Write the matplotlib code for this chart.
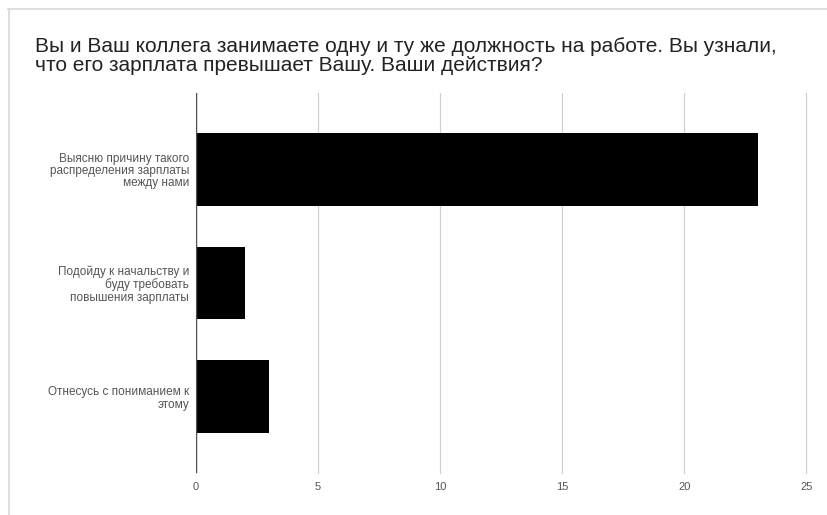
import matplotlib
matplotlib.use('Agg')
import matplotlib.pyplot as plt
from matplotlib.lines import Line2D

plt.rcParams['font.family'] = ['Liberation Sans', 'DejaVu Sans']

# survey answers and counts
answers = [
    'Выясню причину такого\nраспределения зарплаты\nмежду нами',
    'Подойду к начальству и\nбуду требовать\nповышения зарплаты',
    'Отнесусь с пониманием к\nэтому',
]
counts = [23, 2, 3]
xticks = [0, 5, 10, 15, 20, 25]
title = ('Вы и Ваш коллега занимаете одну и ту же должность на работе. Вы узнали,\n'
         'что его зарплата превышает Вашу. Ваши действия?')

fig = plt.figure(figsize=(8.28, 5.15), dpi=100)
ax = fig.add_axes([196 / 828, 1 - 473 / 515, 610.5 / 828, 380 / 515])

pos = list(range(len(answers)))
ax.barh(pos, counts, height=0.64, color='black', zorder=3)

ax.set_xlim(0, 25)
ax.set_ylim(2.67, -0.67)
ax.set_xticks(xticks)
ax.set_xticklabels([str(t) for t in xticks], fontsize=8, color='#555555')
ax.set_yticks(pos)
ax.set_yticklabels(answers, fontsize=8.5, color='#555555', linespacing=1.05)
ax.tick_params(axis='both', length=0)
ax.tick_params(axis='x', pad=6.5)
ax.tick_params(axis='y', pad=5)

for s in ax.spines.values():
    s.set_visible(False)

ax.grid(axis='x', color='#d0d0d0', lw=0.9, zorder=1)
for gl in ax.get_xgridlines():
    gl.set_clip_on(False)
ax.axvline(0, color='#505050', lw=1.0, zorder=4)

fig.text(35 / 828, 1 - 37 / 515, title, fontsize=15, color='#222222',
         va='top', ha='left', linespacing=1.02)

# card border (top and left edges)
fig.add_artist(Line2D([8 / 828, 1], [1 - 9 / 515, 1 - 9 / 515],
                      color='#d8d8d8', lw=1.2))
fig.add_artist(Line2D([9 / 828, 9 / 828], [0, 1 - 9 / 515],
                      color='#d8d8d8', lw=1.2))

fig.savefig('out.png', dpi=100, facecolor='white')
